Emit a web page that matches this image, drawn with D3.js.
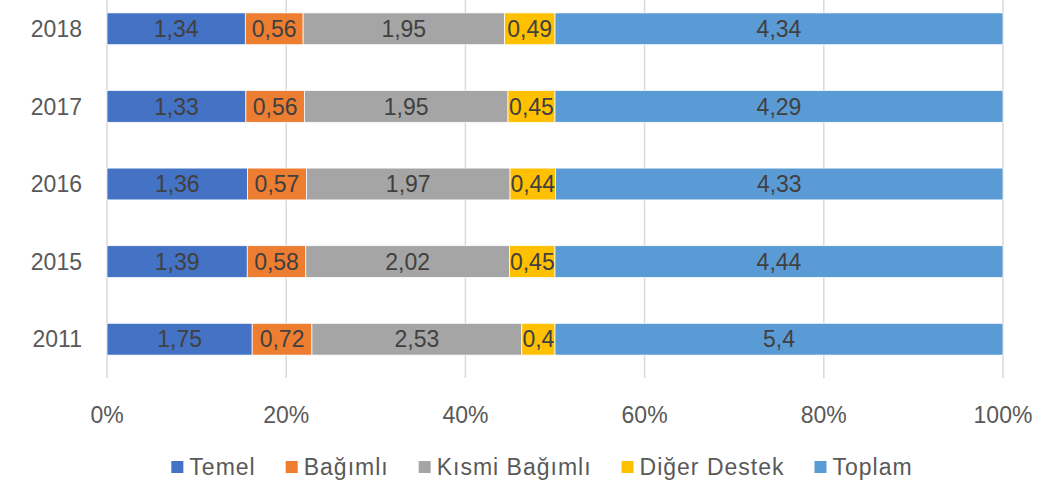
<!DOCTYPE html>
<html>
<head>
  <meta charset="UTF-8">
  <style>
    body { margin: 0; background: #fff; }
    svg { font-family: "Liberation Sans", Arial, sans-serif; }
  </style>
</head>
<body>
<svg></svg>
<script src="https://d3js.org/d3.v7.min.js"></script>
<script>
    let width = 1056;
    let height = 483;

    // data
    let years = ["2018", "2017", "2016", "2015", "2011"];
    let series = ["Temel", "Bağımlı", "Kısmi Bağımlı", "Diğer Destek", "Toplam"];
    let temel = [1.34, 1.33, 1.36, 1.39, 1.75];
    let bagimli = [0.56, 0.56, 0.57, 0.58, 0.72];
    let kismi = [1.95, 1.95, 1.97, 2.02, 2.53];
    let diger = [0.49, 0.45, 0.44, 0.45, 0.4];
    let toplam = [4.34, 4.29, 4.33, 4.44, 5.4];
    let ticks = [0, 0.2, 0.4, 0.6, 0.8, 1];
    let colors = ["#4472C4", "#ED7D31", "#A5A5A5", "#FFC000", "#5B9BD5"];

    let svg = d3.select("svg")
        .attr("width", width)
        .attr("height", height);

    // build rows for the stack
    let rows = years.map((y, i) => {
        let r = { year: y };
        r[series[0]] = temel[i];
        r[series[1]] = bagimli[i];
        r[series[2]] = kismi[i];
        r[series[3]] = diger[i];
        r[series[4]] = toplam[i];
        return r;
    });

    let stacked = d3.stack()
        .keys(series)
        .offset(d3.stackOffsetExpand)(rows);

    let x = d3.scaleLinear().domain([0, 1]).range([107, 1003]);
    let y = d3.scaleBand().domain(years).range([-10, 378]).paddingInner(0.59).paddingOuter(0.295);

    // gridlines
    svg.append("g")
      .selectAll("line")
      .data(ticks)
      .enter()
      .append("line")
        .attr("x1", d => x(d))
        .attr("x2", d => x(d))
        .attr("y1", 0)
        .attr("y2", 378)
        .attr("stroke", "#D9D9D9")
        .attr("stroke-width", 1.5);

    // bars
    let layer = svg.append("g")
      .selectAll("g")
      .data(stacked)
      .enter()
      .append("g")
        .attr("fill", (d, i) => colors[i]);

    layer.selectAll("rect")
      .data(d => d.map(p => ({ p: p, key: d.key })))
      .enter()
      .append("rect")
        .attr("x", d => x(d.p[0]))
        .attr("width", d => x(d.p[1]) - x(d.p[0]))
        .attr("y", d => y(d.p.data.year))
        .attr("height", y.bandwidth())
        .attr("stroke", "#fff")
        .attr("stroke-width", 0.75);

    layer.selectAll("text")
      .data(d => d.map(p => ({ p: p, key: d.key })))
      .enter()
      .append("text")
        .attr("x", d => (x(d.p[0]) + x(d.p[1])) / 2)
        .attr("y", d => y(d.p.data.year) + y.bandwidth() / 2)
        .attr("dy", "0.36em")
        .attr("text-anchor", "middle")
        .attr("fill", "#404040")
        .style("font-size", "23px")
        .text(d => String(d.p.data[d.key]).replace(".", ","));

    // year labels
    svg.append("g")
      .selectAll("text")
      .data(years)
      .enter()
      .append("text")
        .attr("x", 82)
        .attr("y", d => y(d) + y.bandwidth() / 2)
        .attr("dy", "0.36em")
        .attr("text-anchor", "end")
        .attr("fill", "#595959")
        .style("font-size", "23px")
        .text(d => d);

    // x tick labels
    svg.append("g")
      .selectAll("text")
      .data(ticks)
      .enter()
      .append("text")
        .attr("x", d => x(d))
        .attr("y", 415)
        .attr("dy", "0.36em")
        .attr("text-anchor", "middle")
        .attr("fill", "#595959")
        .style("font-size", "23px")
        .text(d => d3.format(".0%")(d));

    // legend
    let legend = svg.append("g");
    let items = legend.selectAll("g")
      .data(series)
      .enter()
      .append("g");
    items.append("rect")
      .attr("width", 12)
      .attr("height", 12)
      .attr("y", 461)
      .attr("fill", (d, i) => colors[i]);
    items.append("text")
      .attr("x", 18)
      .attr("y", 467)
      .attr("dy", "0.36em")
      .attr("fill", "#595959")
      .style("font-size", "23px")
      .style("letter-spacing", "1px")
      .text(d => d);

    let widths = [];
    items.selectAll("text").each(function() { widths.push(this.getComputedTextLength()); });
    let gap = 30;
    let total = d3.sum(widths) + widths.length * 18 + (widths.length - 1) * gap;
    let cx = 542 - total / 2;
    items.attr("transform", (d, i) => {
        let t = "translate(" + cx + ",0)";
        cx += 18 + widths[i] + gap;
        return t;
    });
</script>
</body>
</html>
